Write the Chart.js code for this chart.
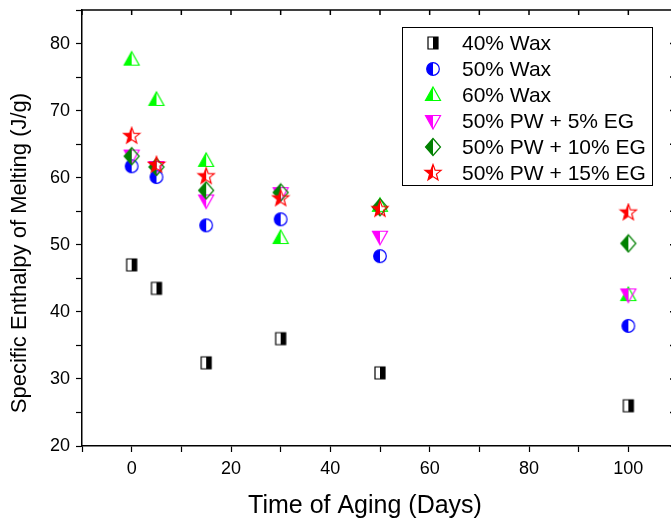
<!DOCTYPE html>
<html>
<head>
<meta charset="utf-8">
<script src="https://cdn.jsdelivr.net/npm/chart.js@4/dist/chart.umd.min.js"></script>
<style>
  html, body { margin: 0; padding: 0; background: #fff; overflow: hidden; }
  #wrap { width: 671px; height: 521px; overflow: hidden; }
</style>
</head>
<body>
<div id="wrap"><canvas id="enthalpyChart" width="690" height="521"></canvas></div>
<script>
// aging time (days)
const days = [0, 5, 15, 30, 50, 100];

const seriesNames = ['40% Wax', '50% Wax', '60% Wax', '50% PW + 5% EG', '50% PW + 10% EG', '50% PW + 15% EG'];
const wax40 = [47.0, 43.5, 32.4, 36.0, 30.9, 26.0];
const wax50 = [61.7, 60.1, 52.9, 53.8, 48.3, 37.9];
const wax60 = [77.6, 71.6, 62.5, 51.0, 55.8, 42.5];
const eg5 = [63.3, 61.6, 56.6, 57.7, 51.2, 42.6];
const eg10 = [63.2, 61.6, 58.1, 57.8, 55.6, 50.2];
const eg15 = [66.2, 61.9, 60.2, 56.9, 55.3, 54.8];

const xTicks = [0, 20, 40, 60, 80, 100];
const yTicks = [20, 30, 40, 50, 60, 70, 80];

const FONT = '"Liberation Sans", Arial, sans-serif';

// half-filled marker images (left half filled, except the square)
function makeMarker(kind, color) {
    const c = document.createElement('canvas');
    c.width = 20; c.height = 20;
    const g = c.getContext('2d');
    g.translate(10, 10);
    g.beginPath();
    if (kind === 'square') {
        g.rect(-5, -6, 10, 12);
    } else if (kind === 'circle') {
        g.arc(0, 0, 6.3, 0, Math.PI * 2);
    } else if (kind === 'triUp') {
        g.moveTo(0, -8); g.lineTo(7.5, 5.5); g.lineTo(-7.5, 5.5); g.closePath();
    } else if (kind === 'triDown') {
        g.moveTo(0, 8); g.lineTo(7.5, -5.5); g.lineTo(-7.5, -5.5); g.closePath();
    } else if (kind === 'diamond') {
        g.moveTo(0, -8.5); g.lineTo(7.5, 0); g.lineTo(0, 8.5); g.lineTo(-7.5, 0); g.closePath();
    } else if (kind === 'star') {
        for (let i = 0; i < 10; i++) {
            const r = i % 2 === 0 ? 8.5 : 3.6;
            const a = -Math.PI / 2 + i * Math.PI / 5;
            g[i === 0 ? 'moveTo' : 'lineTo'](r * Math.cos(a), r * Math.sin(a));
        }
        g.closePath();
    }
    g.save();
    g.clip();
    g.fillStyle = color;
    if (kind === 'square') g.fillRect(0, -10, 10, 20);
    else g.fillRect(-10, -10, 10, 20);
    g.restore();
    g.strokeStyle = color;
    g.lineWidth = 1.2;
    g.stroke();
    return c;
}

const markers = [
    makeMarker('square', '#000000'),
    makeMarker('circle', '#0000ff'),
    makeMarker('triUp', '#00ff00'),
    makeMarker('triDown', '#ff00ff'),
    makeMarker('diamond', '#008000'),
    makeMarker('star', '#ff0000')
];

const allValues = [wax40, wax50, wax60, eg5, eg10, eg15];

const datasets = allValues.map(function(vals, i) {
    return {
        label: seriesNames[i],
        data: days.map(function(d, j) { return { x: d, y: vals[j] }; }),
        pointStyle: markers[i],
        showLine: false,
        order: 5 - i
    };
});

// frame, mirrored ticks, axis titles and the boxed legend
const framePlugin = {
    id: 'frame',
    afterDraw(chart) {
        const ctx = chart.ctx;
        const area = chart.chartArea;
        const xs = chart.scales.x, ys = chart.scales.y;
        ctx.save();
        ctx.strokeStyle = '#000';
        ctx.lineWidth = 1.5;
        ctx.beginPath();
        ctx.moveTo(area.left, area.top); ctx.lineTo(area.right, area.top);
        ctx.moveTo(area.right, area.top); ctx.lineTo(area.right, area.bottom);
        for (let v = -10; v <= 110; v += 10) {
            const px = xs.getPixelForValue(v);
            ctx.moveTo(px, area.top); ctx.lineTo(px, area.top + 5);
        }
        for (let v = 20; v <= 85; v += 5) {
            const py = ys.getPixelForValue(v);
            ctx.moveTo(area.right, py); ctx.lineTo(area.right - 8, py);
        }
        ctx.stroke();

        // axis titles
        ctx.fillStyle = '#000';
        ctx.textAlign = 'center';
        ctx.textBaseline = 'middle';
        ctx.font = '25px ' + FONT;
        ctx.fillText('Time of Aging (Days)', 365, 506);
        ctx.save();
        ctx.translate(20, 253);
        ctx.rotate(-Math.PI / 2);
        ctx.font = '22px ' + FONT;
        ctx.fillText('Specific Enthalpy of Melting (J/g)', 0, 0);
        ctx.restore();

        // legend
        ctx.lineWidth = 1;
        ctx.strokeRect(402.5, 27.5, 250, 158);
        ctx.font = '21px ' + FONT;
        ctx.textAlign = 'left';
        seriesNames.forEach(function(name, i) {
            const y = 43 + i * 26;
            ctx.drawImage(markers[i], 433 - 10, y - 10);
            ctx.fillText(name, 462, y + 1);
        });
        ctx.restore();
    }
};

function noPad(scale) {
    scale.paddingTop = 0;
    scale.paddingBottom = 0;
    scale.paddingLeft = 0;
    scale.paddingRight = 0;
}

const ctx = document.getElementById('enthalpyChart').getContext('2d');
new Chart(ctx, {
    type: 'scatter',
    data: { datasets: datasets },
    options: {
        responsive: false,
        animation: false,
        layout: { padding: { top: 10, right: 12, left: 0, bottom: 0 } },
        plugins: {
            legend: { display: false },
            tooltip: { enabled: false }
        },
        scales: {
            x: {
                type: 'linear',
                min: -10,
                max: 110,
                afterFit: function(scale) { scale.height = 75; noPad(scale); },
                afterBuildTicks: function(scale) {
                    const t = [];
                    for (let v = -10; v <= 110; v += 10) t.push({ value: v });
                    scale.ticks = t;
                },
                border: { display: true, color: '#000', width: 1.5 },
                grid: { drawOnChartArea: false, drawTicks: true, tickLength: 6, color: '#000', tickWidth: 1.2 },
                ticks: {
                    autoSkip: false,
                    maxRotation: 0,
                    padding: 6,
                    color: '#000',
                    font: { family: FONT, size: 18 },
                    callback: function(v) { return xTicks.includes(v) ? String(v) : ''; }
                }
            },
            y: {
                type: 'linear',
                min: 20,
                max: 85,
                afterFit: function(scale) { scale.width = 82; noPad(scale); },
                afterBuildTicks: function(scale) {
                    const t = [];
                    for (let v = 20; v <= 85; v += 5) t.push({ value: v });
                    scale.ticks = t;
                },
                border: { display: true, color: '#000', width: 1.5 },
                grid: { drawOnChartArea: false, drawTicks: true, tickLength: 6, color: '#000', tickWidth: 1.2 },
                ticks: {
                    autoSkip: false,
                    padding: 6,
                    color: '#000',
                    font: { family: FONT, size: 18 },
                    callback: function(v) { return yTicks.includes(v) ? String(v) : ''; }
                }
            }
        }
    },
    plugins: [framePlugin]
});
</script>
</body>
</html>
